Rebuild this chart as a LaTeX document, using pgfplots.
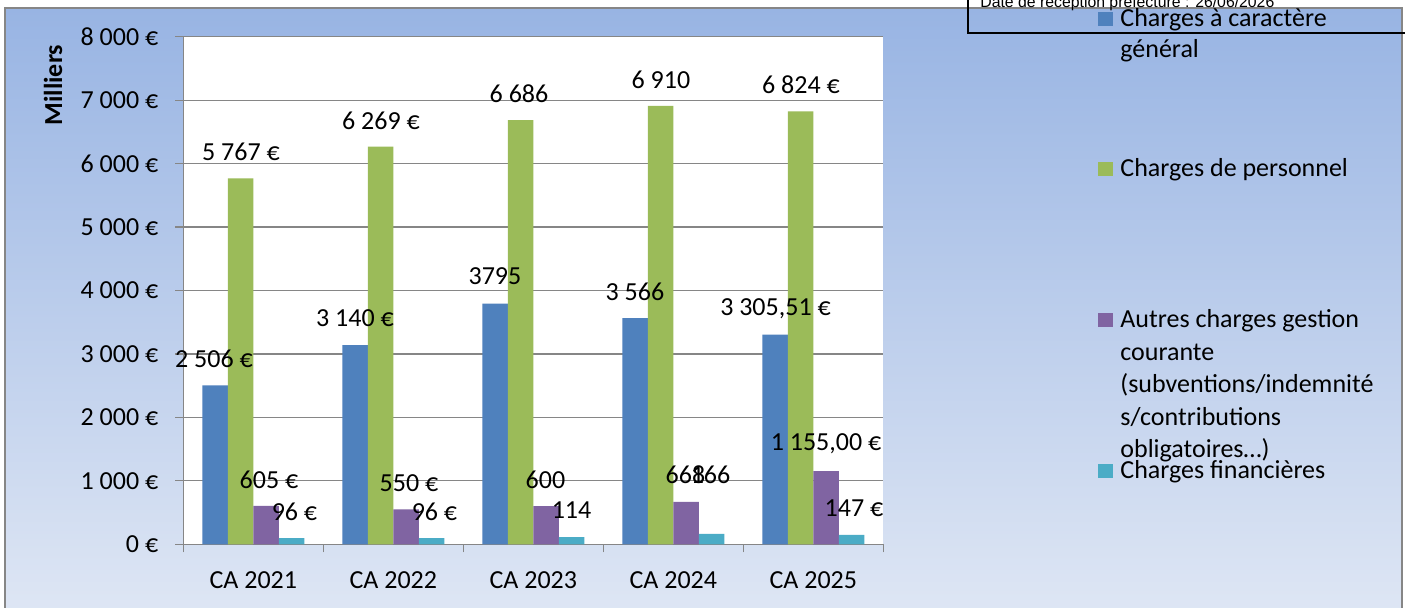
\documentclass[border=0pt]{standalone}
\usepackage{pgfplots}
\pgfplotsset{compat=1.18}
\usepackage{fontspec}
\setmainfont{Carlito}
\newfontfamily\arialfont{Liberation Sans}
\definecolor{cBlue}{RGB}{79,129,189}
\definecolor{cGreen}{RGB}{155,187,89}
\definecolor{cPurple}{RGB}{128,100,162}
\definecolor{cCyan}{RGB}{75,172,198}
\definecolor{cGrid}{RGB}{134,134,134}
\definecolor{bgTop}{RGB}{152,180,227}
\definecolor{bgBot}{RGB}{222,230,244}
\newcommand{\lf}{\fontsize{13}{15}\selectfont}
\begin{document}
\begin{tikzpicture}[x=0.5pt,y=0.5pt]
\useasboundingbox (0,0) rectangle (1405,607);
% background
\shade[top color=bgTop, bottom color=bgBot] (5,-5) rectangle (1402,599);
\draw[cGrid, line width=0.6pt] (5,-5) rectangle (1402,599);
% date box
\draw[black, line width=0.6pt] (968,640) -- (968,574) -- (1420,574);
\node[font=\arialfont\fontsize{7.9}{9}\selectfont, anchor=base west, inner sep=0pt] at (980,600) {Date de réception préfecture : 26/06/2026};
% y label
\node[rotate=90, font=\lf\bfseries] at (53,522) {Milliers};
\begin{axis}[
  at={(91.65pt,31.35pt)}, anchor=south west,
  scale only axis, width=350pt, height=253.8pt,
  xmin=-0.5, xmax=4.5, ymin=0, ymax=8000,
  ybar=0pt, bar width=0.182,
  axis background/.style={fill=white},
  axis x line*=bottom, axis y line*=left,
  axis line style={cGrid, line width=0.6pt},
  ymajorgrids, grid style={cGrid, line width=0.6pt},
  tick align=outside, major tick length=4pt,
  tick style={cGrid, line width=0.6pt},
  ytick={0,1000,...,8000},
  yticklabels={0~€,1~000~€,2~000~€,3~000~€,4~000~€,5~000~€,6~000~€,7~000~€,8~000~€},
  yticklabel style={font=\lf, anchor=east, xshift=-5pt},
  xtick={-0.5,0.5,...,4.5},
  x tick label as interval,
  xticklabels={CA 2021,CA 2022,CA 2023,CA 2024,CA 2025},
  xticklabel style={font=\lf, yshift=-6pt},
  clip=false,
]
\addplot[fill=cBlue, draw=none] coordinates {(0,2506) (1,3140) (2,3795) (3,3566) (4,3305.51)};
\addplot[fill=cGreen, draw=none] coordinates {(0,5767) (1,6269) (2,6686) (3,6910) (4,6824)};
\addplot[fill=cPurple, draw=none] coordinates {(0,605) (1,550) (2,600) (3,668) (4,1155)};
\addplot[fill=cCyan, draw=none] coordinates {(0,96) (1,96) (2,114) (3,166) (4,147)};
\begin{scope}[every node/.style={font=\lf, inner sep=0pt}]
\node at (axis cs:-0.281,2928) {2~506~€};
\node at (axis cs:-0.088,6191) {5~767~€};
\node at (axis cs:0.112,1013) {605~€};
\node at (axis cs:0.294,517) {96~€};
\node at (axis cs:0.726,3559) {3~140~€};
\node at (axis cs:0.912,6679) {6~269~€};
\node at (axis cs:1.112,958) {550~€};
\node at (axis cs:1.294,517) {96~€};
\node at (axis cs:1.726,4221) {3795};
\node at (axis cs:1.898,7097) {6~686};
\node at (axis cs:2.087,1013) {600};
\node at (axis cs:2.273,533) {114};
\node at (axis cs:2.726,3984) {3~566};
\node at (axis cs:2.912,7325) {6~910};
\node at (axis cs:3.087,1100) {668};
\node at (axis cs:3.266,1100) {166};
\node at (axis cs:3.73,3716) {3~305,51~€};
\node at (axis cs:3.912,7247) {6~824~€};
\node at (axis cs:4.091,1589) {1~155,00~€};
\node at (axis cs:4.291,564) {147~€};
\end{scope}
\end{axis}
% legend
\begin{scope}[every node/.style={font=\lf, anchor=base west, inner sep=0pt}]
\fill[cBlue] (1098,581) rectangle (1113,595);
\node at (1120,581) {Charges à caractère};
\node at (1120,550) {général};
\fill[cGreen] (1098,431) rectangle (1113,445);
\node at (1120,431) {Charges de personnel};
\fill[cPurple] (1098,280) rectangle (1113,294);
\node at (1120,280) {Autres charges gestion};
\node at (1120,247) {courante};
\node at (1120,215) {(subventions/indemnité};
\node at (1120,182) {s/contributions};
\node at (1120,150) {obligatoires…)};
\fill[cCyan] (1098,129) rectangle (1113,143);
\node at (1120,129) {Charges financières};
\end{scope}
\end{tikzpicture}
\end{document}
